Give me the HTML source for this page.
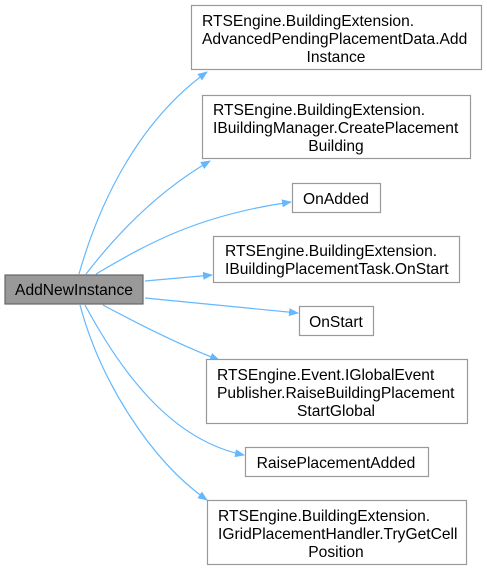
<!DOCTYPE html>
<html><head><style>
body{margin:0;background:#fff;width:487px;height:570px;overflow:hidden}
svg{position:absolute;left:0;top:0}
text{font-family:"Liberation Sans",Arial,sans-serif;font-size:15.6px;fill:#000}
.c{text-anchor:middle}
</style></head><body>
<svg width="487" height="570" viewBox="0 0 487 570">
<defs><marker id="a" markerWidth="10" markerHeight="8" refX="9" refY="4" orient="auto" markerUnits="userSpaceOnUse"><path d="M0,0 L10,4 L0,8 Z" fill="#63b8ff"/></marker></defs>
<g fill="none" stroke="#63b8ff" stroke-width="1.2" marker-end="url(#a)">
<path d="M79,274 C100,200 140,120 207,72"/>
<path d="M86,274 C120,230 160,190 210,161"/>
<path d="M96,274 C150,242 200,215 291,202"/>
<path d="M145,281 L212,275"/>
<path d="M145,298 L298,313"/>
<path d="M103,305 C140,325 180,345 219,360"/>
<path d="M85,305 C120,370 170,440 244,455"/>
<path d="M80,305 C100,380 150,460 207,500"/>
</g>
<g stroke="#999" stroke-width="1.2" fill="#fff">
<rect x="5" y="275" width="138" height="29" fill="#999" stroke="#666"/>
<rect x="191.5" y="5.5" width="290" height="64"/>
<rect x="202.5" y="95.5" width="268" height="63"/>
<rect x="292.5" y="183.5" width="88" height="29"/>
<rect x="213.5" y="236.5" width="246" height="46"/>
<rect x="299.5" y="306.5" width="74" height="29"/>
<rect x="206.5" y="359.5" width="261" height="64"/>
<rect x="245.5" y="447.5" width="183" height="29"/>
<rect x="207.5" y="500.5" width="259" height="64"/>
</g>
<text class="c" x="74" y="295">AddNewInstance</text>
<text x="202" y="26">RTSEngine.BuildingExtension.</text>
<text x="202" y="44">AdvancedPendingPlacementData.Add</text>
<text class="c" x="336" y="62">Instance</text>
<text x="213" y="115">RTSEngine.BuildingExtension.</text>
<text x="213" y="133">IBuildingManager.CreatePlacement</text>
<text class="c" x="336" y="151">Building</text>
<text class="c" x="336" y="204">OnAdded</text>
<text x="225" y="256">RTSEngine.BuildingExtension.</text>
<text x="225" y="274">IBuildingPlacementTask.OnStart</text>
<text class="c" x="336" y="327">OnStart</text>
<text x="217" y="380">RTSEngine.Event.IGlobalEvent</text>
<text x="217" y="398">Publisher.RaiseBuildingPlacement</text>
<text class="c" x="336" y="416">StartGlobal</text>
<text class="c" x="336" y="468">RaisePlacementAdded</text>
<text x="218" y="521">RTSEngine.BuildingExtension.</text>
<text x="218" y="539">IGridPlacementHandler.TryGetCell</text>
<text class="c" x="336" y="557">Position</text>
</svg>
</body></html>
